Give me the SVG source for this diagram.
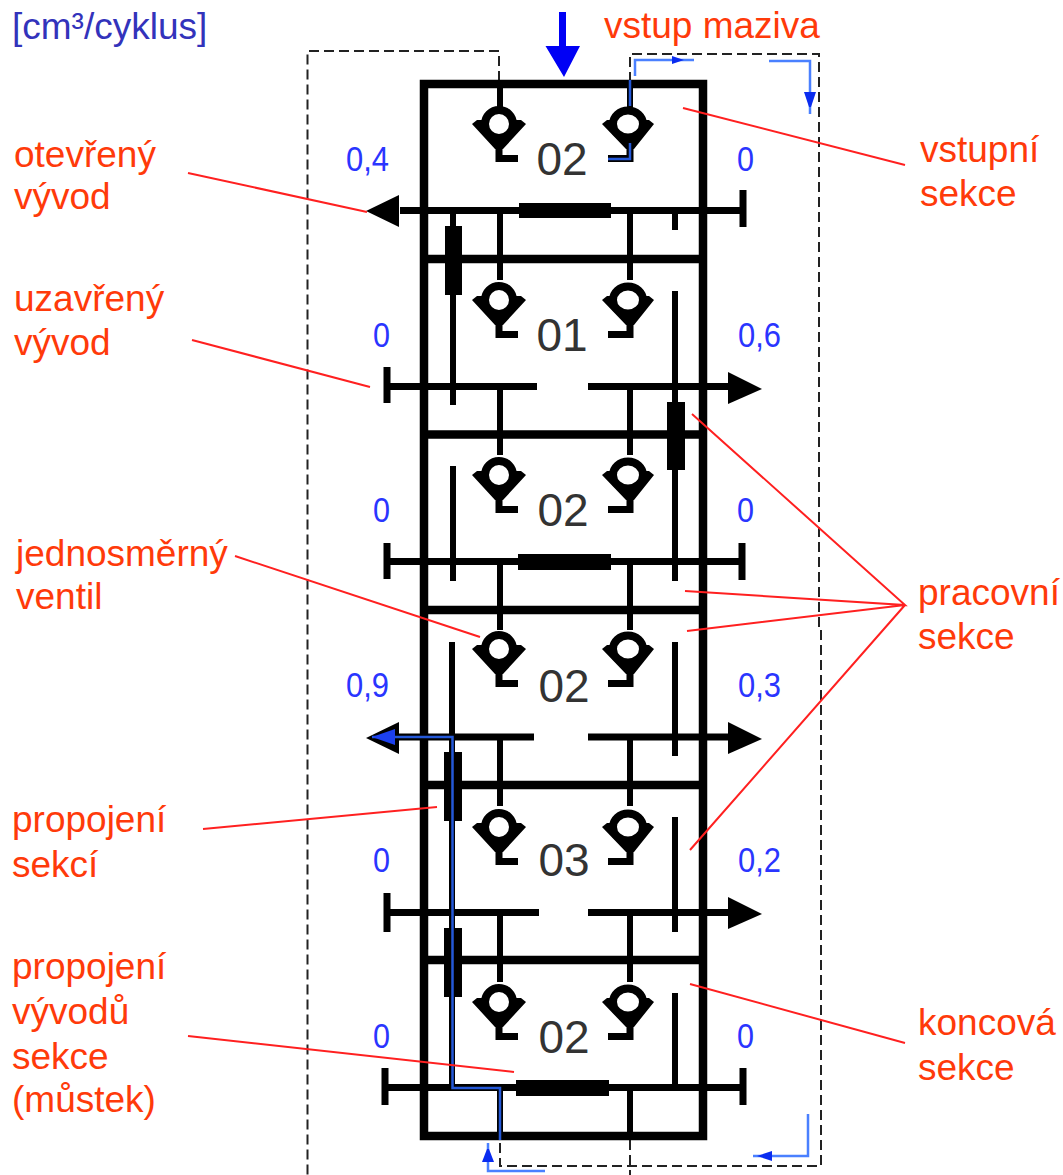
<svg xmlns="http://www.w3.org/2000/svg" width="1063" height="1175" viewBox="0 0 1063 1175">
<style>
text{font-family:"Liberation Sans",Arial,sans-serif}
.lb{font-size:37px;fill:#ff3a0a}
.num{font-size:46px;fill:#333;text-anchor:middle}
.val{font-size:35px;fill:#2a35ff}
.wall{fill:none;stroke:#000;stroke-width:8.5}
.div{fill:none;stroke:#000;stroke-width:8.5}
.bus{fill:none;stroke:#000;stroke-width:7}
.pipe{fill:none;stroke:#000;stroke-width:6}
.dash{fill:none;stroke:#222;stroke-width:2;stroke-dasharray:10 5}
.red{fill:none;stroke:#ff2020;stroke-width:2}
.thin{fill:none;stroke:#4a80ff;stroke-width:2.500}
.flow{fill:none;stroke:#2458d8;stroke-width:2.500}
.head{fill:#0a2cf0}
</style>
<defs>
<g id="valveL">
<polygon points="-27,0 -22,-4 -14,-4 -10,8 10,8 14,-4 22,-4 27,0 4,25 -4,25" fill="#000"/>
<circle r="14" fill="#fff" stroke="#000" stroke-width="8"/>
<path d="M0,22V34.500H19" class="pipe" style="stroke-width:7"/>
</g>
<g id="valveR">
<polygon points="-26,0 -21,-4 -15,-4 -10,8 12,8 15,-4 21,-4 26,0 6,25 -2,25" fill="#000"/>
<ellipse rx="15" ry="13.500" fill="#fff" stroke="#000" stroke-width="8"/>
<path d="M2,22V34.500H-20" class="pipe" style="stroke-width:7"/>
</g>
<polygon id="arrR" points="0,-16 34,1 0,16" fill="#000"/>
<polygon id="arrL" points="0,-16 -33,0 0,16" fill="#000"/>
</defs>
<rect width="1063" height="1175" fill="#fff"/>

<g id="connectors">
<g id="dashed-lines">
<path class="dash" d="M499,81V51H307.500V1175"/>
<path class="dash" d="M630,82V54H819V630H821V1166H500V1140"/>
<path class="dash" d="M630,1140V1175"/>
</g>
<g id="pipes">
<path class="pipe" d="M500,84V130M630,84V130"/>
<path class="pipe" d="M500,211V280M630,211V280"/>
<path class="pipe" d="M500,386V455M630,386V455"/>
<path class="pipe" d="M500,561V630M630,561V630"/>
<path class="pipe" d="M500,737V806M630,737V806"/>
<path class="pipe" d="M500,912V982M630,912V982"/>
<path class="pipe" d="M500,1087V1135M630,1087V1135"/>
<path class="pipe" d="M453,211V405M675,211V230"/>
<path class="pipe" d="M675,291V581M453,466V581"/>
<path class="pipe" d="M452,642V1087M675,642V756"/>
<path class="pipe" d="M675,817V932M675,993V1087"/>
</g>
<g id="bridges" fill="#000">
<rect x="445" y="226" width="17" height="69"/>
<rect x="667" y="402" width="18" height="68"/>
<rect x="444" y="752" width="18" height="69"/>
<rect x="444" y="928" width="18" height="69"/>
<rect x="519" y="203" width="92" height="15"/>
<rect x="518" y="554" width="93" height="16"/>
<rect x="516" y="1080" width="93" height="16"/>
</g>
<g id="buses">
<path class="bus" d="M400,210.500H743M743,190V227"/>
<path class="bus" d="M387,367V403M387,386.500H537M588,386.500H730"/>
<path class="bus" d="M387,543V579M387,561.500H742M742,543V580"/>
<path class="bus" d="M398,737H534M588,737H730"/>
<path class="bus" d="M387,893V932M387,912.500H539M588,912.500H730"/>
<path class="bus" d="M385,1068V1105M385,1087.500H743M743,1068V1105"/>
<use href="#arrL" x="399" y="211"/>
<use href="#arrR" x="728" y="388"/>
<use href="#arrL" x="399" y="738"/>
<use href="#arrR" x="728" y="738"/>
<use href="#arrR" x="728" y="913"/>
</g>
</g>

<g id="housing">
<rect class="wall" x="424" y="84" width="279" height="1052"/>
<path class="div" d="M424,259H703M424,434.500H703M424,610H703M424,785H703M424,960H703"/>
</g>

<g id="section-input">
<use href="#valveL" x="499" y="124"/>
<use href="#valveR" x="628" y="124"/>
<text class="num" x="562" y="175">02</text>
</g>
<g id="section-1">
<use href="#valveL" x="499" y="300"/>
<use href="#valveR" x="628" y="300"/>
<text class="num" x="562" y="351">01</text>
</g>
<g id="section-2">
<use href="#valveL" x="499" y="475"/>
<use href="#valveR" x="628" y="475"/>
<text class="num" x="563" y="526">02</text>
</g>
<g id="section-3">
<use href="#valveL" x="499" y="649"/>
<use href="#valveR" x="628" y="649"/>
<text class="num" x="564" y="702">02</text>
</g>
<g id="section-4">
<use href="#valveL" x="499" y="827"/>
<use href="#valveR" x="628" y="827"/>
<text class="num" x="564" y="876">03</text>
</g>
<g id="section-end">
<use href="#valveL" x="499" y="1002"/>
<use href="#valveR" x="628" y="1002"/>
<text class="num" x="564" y="1053">02</text>
</g>

<g id="flow">
<path fill="#0000f5" d="M559,12H566V46H580L564,77L545.500,46H559Z"/>
<path class="flow" d="M630,80V106M630,143V159H608"/>
<path class="thin" d="M635,76V60H694"/>
<polygon class="head" points="672,56 684,60 672,64"/>
<path class="thin" d="M769,61H810V114"/>
<polygon class="head" points="804,92 816,92 811,107 809,107"/>
<path class="thin" d="M808,1114V1156H753"/>
<polygon class="head" points="772,1151 772,1161 757,1156"/>
<path class="thin" d="M545,1171H488V1143"/>
<polygon class="head" points="482,1162 494,1162 489,1149 487,1149"/>
<path class="flow" d="M372,737H452.500V1088H500V1140"/>
<polygon fill="#1c40ee" points="372,737 395,729 395,745"/>
</g>

<g id="leaders">
<path class="red" d="M188,173L367,212"/>
<path class="red" d="M683,108L905,165"/>
<path class="red" d="M192,340L370,387"/>
<path class="red" d="M235,556L480,637"/>
<path class="red" d="M203,829L437,807"/>
<path class="red" d="M188,1036L514,1072"/>
<path class="red" d="M692,414L905,605L685,591M905,605L687,631M905,605L690,850"/>
<path class="red" d="M690,984L905,1043"/>
</g>

<g id="labels">
<text x="12" y="39" font-size="37" fill="#3333bb">[cm³/cyklus]</text>
<text class="lb" x="604" y="38">vstup maziva</text>
<text class="lb" x="14" y="167">otevřený</text>
<text class="lb" x="14" y="209">vývod</text>
<text class="lb" x="14" y="311">uzavřený</text>
<text class="lb" x="14" y="355">vývod</text>
<text class="lb" x="16" y="566">jednosměrný</text>
<text class="lb" x="16" y="609">ventil</text>
<text class="lb" x="12" y="832">propojení</text>
<text class="lb" x="12" y="877">sekcí</text>
<text class="lb" x="12" y="979">propojení</text>
<text class="lb" x="12" y="1024">vývodů</text>
<text class="lb" x="12" y="1069">sekce</text>
<text class="lb" x="12" y="1112">(můstek)</text>
<text class="lb" x="920" y="162">vstupní</text>
<text class="lb" x="920" y="206">sekce</text>
<text class="lb" x="918" y="605">pracovní</text>
<text class="lb" x="918" y="649">sekce</text>
<text class="lb" x="918" y="1035">koncová</text>
<text class="lb" x="918" y="1080">sekce</text>
</g>
<g id="values">
<text class="val" x="346" y="171" textLength="43" lengthAdjust="spacingAndGlyphs">0,4</text>
<text class="val" x="737" y="171" textLength="17" lengthAdjust="spacingAndGlyphs">0</text>
<text class="val" x="373" y="347" textLength="17" lengthAdjust="spacingAndGlyphs">0</text>
<text class="val" x="738" y="347" textLength="43" lengthAdjust="spacingAndGlyphs">0,6</text>
<text class="val" x="373" y="522" textLength="17" lengthAdjust="spacingAndGlyphs">0</text>
<text class="val" x="737" y="522" textLength="17" lengthAdjust="spacingAndGlyphs">0</text>
<text class="val" x="346" y="697" textLength="43" lengthAdjust="spacingAndGlyphs">0,9</text>
<text class="val" x="738" y="697" textLength="43" lengthAdjust="spacingAndGlyphs">0,3</text>
<text class="val" x="373" y="872" textLength="17" lengthAdjust="spacingAndGlyphs">0</text>
<text class="val" x="738" y="872" textLength="43" lengthAdjust="spacingAndGlyphs">0,2</text>
<text class="val" x="373" y="1048" textLength="17" lengthAdjust="spacingAndGlyphs">0</text>
<text class="val" x="737" y="1048" textLength="17" lengthAdjust="spacingAndGlyphs">0</text>
</g>
</svg>
